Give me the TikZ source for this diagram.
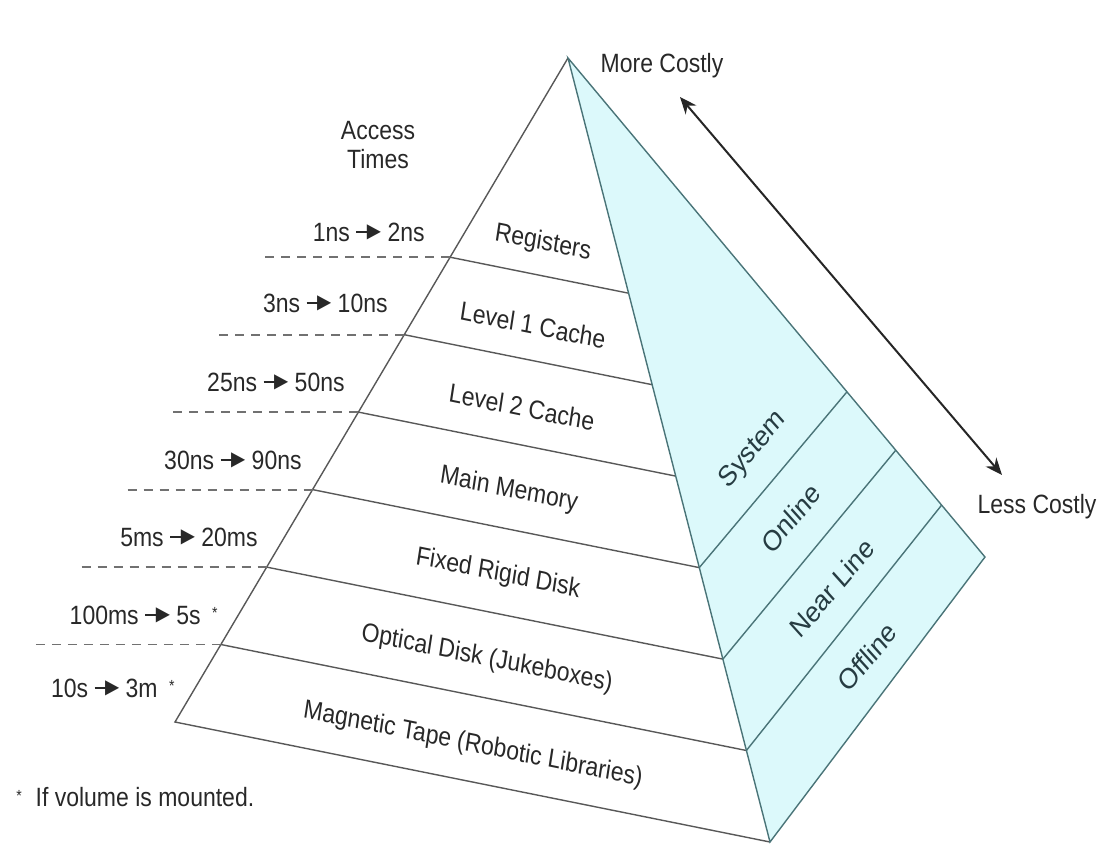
\documentclass[tikz,border=0pt]{standalone}
\usepackage{graphicx}
\usepackage{fontspec}
\setmainfont{Liberation Sans}
\newfontfamily\arrowfont{DejaVu Sans}
\usetikzlibrary{arrows.meta}

\definecolor{facecyan}{RGB}{220,249,251}
\definecolor{tealline}{RGB}{74,116,120}
\definecolor{greyline}{RGB}{88,88,88}
\definecolor{labelgrey}{RGB}{40,40,40}
\definecolor{tealtext}{RGB}{38,60,66}

\newcommand{\toarrow}{\hspace{0.28em}\rule[0.31em]{0.6em}{0.08em}\kern-0.14em\raisebox{0.14em}{\scalebox{0.8}[0.75]{\arrowfont ▶}}\hspace{0.28em}}
\newcommand{\volmark}{\raisebox{0.2em}{\fontsize{7}{7}\selectfont *}}

\tikzset{
  tierlabel/.style={font=\fontsize{11.5}{13}\selectfont, text=labelgrey, yscale=1.15, inner sep=1pt},
  classlabel/.style={font=\fontsize{12.5}{14}\selectfont, text=tealtext, yscale=1.15, inner sep=1pt},
  timelabel/.style={font=\fontsize{11.5}{13}\selectfont, text=labelgrey, yscale=1.15, anchor=east, inner sep=0pt},
  tierline/.style={draw=greyline, line width=0.7pt},
  classline/.style={draw=tealline, line width=0.7pt},
  guideline/.style={draw=greyline!85, line width=0.9pt, dash pattern=on 4.5pt off 3.5pt},
  costarrow/.style={{Stealth[length=8.5pt,width=7pt]}-{Stealth[length=8.5pt,width=7pt]}, line width=1pt, draw=black!85},
}

\begin{document}
\begin{tikzpicture}[x=0.5pt,y=-0.5pt]
  \useasboundingbox (0,0) rectangle (1100,858);
  \path
    (568,58) coordinate (apex)
    (175,722) coordinate (lbase)
    (770,842) coordinate (fbase)
    (985,557) coordinate (rbase)
    (450.1,257.2) coordinate (l1)
    (404.3,334.7) coordinate (l2)
    (358.4,412.1) coordinate (l3)
    (312.6,489.6) coordinate (l4)
    (266.7,567.1) coordinate (l5)
    (220.9,644.5) coordinate (l6)
    (628.6,293.2) coordinate (f1)
    (652.2,384.7) coordinate (f2)
    (675.7,476.1) coordinate (f3)
    (699.3,567.6) coordinate (f4)
    (722.9,659.1) coordinate (f5)
    (746.4,750.5) coordinate (f6)
    (847.0,391.8) coordinate (r1)
    (895.8,450.2) coordinate (r2)
    (941.6,505.1) coordinate (r3)
    (265.1,257.2) coordinate (g1)
    (219.3,334.7) coordinate (g2)
    (173.4,412.1) coordinate (g3)
    (127.6,489.6) coordinate (g4)
    (81.7,567.1) coordinate (g5)
    (35.9,644.5) coordinate (g6)
    (680,97) coordinate (costhigh)
    (1002,475) coordinate (costlow);

  \fill[facecyan] (apex) -- (fbase) -- (rbase) -- cycle;

  \begin{scope}[tierline]
    \draw (apex) -- (lbase) -- (fbase);
    \draw (l1) -- (f1);
    \draw (l2) -- (f2);
    \draw (l3) -- (f3);
    \draw (l4) -- (f4);
    \draw (l5) -- (f5);
    \draw (l6) -- (f6);
  \end{scope}
  \begin{scope}[classline]
    \draw (apex) -- (fbase) -- (rbase) -- cycle;
    \draw (f4) -- (r1);
    \draw (f5) -- (r2);
    \draw (f6) -- (r3);
  \end{scope}
  \begin{scope}[guideline]
    \draw (g1) -- (l1);
    \draw (g2) -- (l2);
    \draw (g3) -- (l3);
    \draw (g4) -- (l4);
    \draw (g5) -- (l5);
    \draw (g6) -- (l6);
  \end{scope}
  \draw[costarrow] (costhigh) -- (costlow);

  \node[tierlabel, rotate=-10] (registers) at (543,243) {Registers};
  \node[tierlabel, rotate=-10] (cache1) at (533,325) {Level 1 Cache};
  \node[tierlabel, rotate=-10] (cache2) at (522,407) {Level 2 Cache};
  \node[tierlabel, rotate=-10] (mainmem) at (509,490) {Main Memory};
  \node[tierlabel, rotate=-10] (rigid) at (498,574) {Fixed Rigid Disk};
  \node[tierlabel, rotate=-10] (optical) at (487,659) {Optical Disk (Jukeboxes)};
  \node[tierlabel, rotate=-10] (tape) at (473,745) {Magnetic Tape (Robotic Libraries)};

  \node[classlabel, rotate=46] (system) at (753,450) {System};
  \node[classlabel, rotate=46] (online) at (791,518) {Online};
  \node[classlabel, rotate=46] (nearline) at (832,588) {Near Line};
  \node[classlabel, rotate=46] (offline) at (867,657) {Offline};

  \node[tierlabel, align=center] (access) at (378,145) {Access\\Times};
  \node[timelabel] (t1) at (425,232) {1ns\toarrow 2ns};
  \node[timelabel] (t2) at (388,303) {3ns\toarrow 10ns};
  \node[timelabel] (t3) at (345,382) {25ns\toarrow 50ns};
  \node[timelabel] (t4) at (302,460) {30ns\toarrow 90ns};
  \node[timelabel] (t5) at (258,537) {5ms\toarrow 20ms};
  \node[timelabel] (t6) at (218,615) {100ms\toarrow 5s\hspace{0.5em}\volmark};
  \node[timelabel] (t7) at (175,688) {10s\toarrow 3m\hspace{0.5em}\volmark};

  \node[tierlabel] (more) at (662,66) {More Costly};
  \node[tierlabel] (less) at (1037,507) {Less Costly};
  \node[tierlabel, anchor=west] (footnote) at (14,797) {\volmark\hspace{0.6em}If volume is mounted.};
\end{tikzpicture}
\end{document}
